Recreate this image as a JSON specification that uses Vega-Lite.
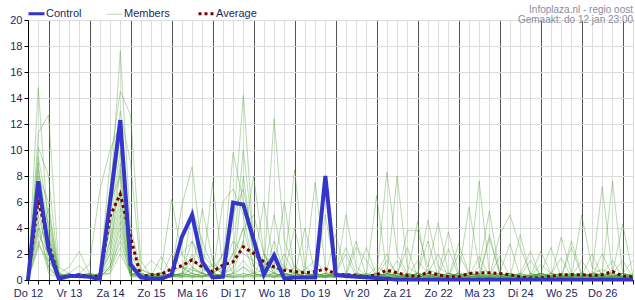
{
  "$schema": "https://vega.github.io/schema/vega-lite/v6.json",
  "width": 605,
  "height": 260,
  "autosize": "none",
  "padding": {"left": 28, "top": 20, "right": 2, "bottom": 20},
  "background": "#ffffff",
  "title": {
    "text": "Infoplaza.nl - regio oost",
    "subtitle": "Gemaakt: do 12 jan 23:00",
    "anchor": "end",
    "frame": "group",
    "font": "Liberation Sans",
    "subtitleFont": "Liberation Sans",
    "fontSize": 10,
    "subtitleFontSize": 10,
    "fontWeight": "normal",
    "color": "#8a8aa0",
    "subtitleColor": "#8a8aa0",
    "offset": -17,
    "subtitlePadding": 0
  },
  "datasets": {
    "hours": [{"k": 1, "h": [0,6,12,18,24,30,36,42,48,54,60,66,72,78,84,90,96,102,108,114,120,126,132,138,144,150,156,162,168,174,180,186,192,198,204,210,216,222,228,234,240,246,252,258,264,270,276,282,288,294,300,306,312,318,324,330,336,342,348,354]}],
    "members": [
      {"m": 1, "k": 1, "v": [0,14.8,3.5,0.3,0.2,0.4,0.2,0.5,6,17.6,4,0.8,0.5,0.3,1,2,3,1.5,0.8,2,4,14.2,3,1,2,1,0.5,0.8,1.5,0.6,0.3,0.5,0.4,0.3,1,0.6,0.5,0.3,0.2,0.8,0.5,0.3,0.2,0.3,1,0.5,0.3,0.4,0.3,0.2,0.3,0.5,0.4,0.3,0.2,0.5,0.8,0.5,0.3,0.2]},
      {"m": 2, "k": 1, "v": [0,11.3,12.7,1,0.5,0.2,0.3,0.2,9,14.5,12.7,1.5,0.3,0.2,0.5,1,0.8,0.5,1.2,0.8,3,2,1.5,0.8,12.4,3,1,0.5,0.3,0.2,0.5,0.3,0.2,0.4,0.3,8.3,2,0.5,0.3,0.2,0.4,0.3,0.2,0.5,0.3,0.2,0.1,0.3,0.2,0.4,0.3,0.2,0.1,0.3,0.5,0.3,0.2,0.4,0.3,0.2]},
      {"m": 3, "k": 1, "v": [0,10.2,8,0.5,1,2.2,0.5,0.3,7,13,9,0.8,0.4,0.6,0.3,0.5,1.5,1,0.5,1,9.8,6,2,1,0.5,1,8.5,1,0.5,0.3,0.2,0.5,0.3,0.2,0.5,0.4,8,1,0.5,0.3,0.2,0.5,0.3,0.6,0.4,0.3,0.5,0.3,0.4,0.3,0.2,0.5,0.3,0.2,0.3,0.5,0.4,0.3,0.2,0.3]},
      {"m": 4, "k": 1, "v": [0,9.5,5,0.2,0.3,0.5,1.2,6.9,10,12,2,0.5,0.2,0.3,0.5,5.7,8.7,2,1,0.5,1,3,8,2,1,0.5,0.3,0.8,7.5,1,0.5,0.3,0.2,0.1,0.3,0.5,0.3,0.2,0.5,4.6,1,0.5,0.3,0.2,0.4,0.3,0.5,0.3,0.2,0.3,0.4,0.3,0.2,0.5,0.3,0.5,7.2,0.5,0.2,0.4]},
      {"m": 5, "k": 1, "v": [0,9,2,0.5,0.2,0.3,0.2,0.3,5,11,3,0.6,1.5,0.8,6.2,2,1,0.5,7.5,1,2,10,3,1,0.5,0.3,1,0.5,0.3,0.5,0.2,5,1,0.3,0.5,0.3,0.2,3.8,3.8,1,4.4,0.5,0.3,0.2,0.3,0.5,0.3,0.2,0.3,0.2,0.5,0.3,0.2,0.3,0.4,0.3,0.5,7.6,0.5,0.3]},
      {"m": 6, "k": 1, "v": [0,8.5,4,0.3,0.5,1.1,0.3,0.2,4,10,1.5,0.5,0.3,1.8,0.5,0.3,5.5,3,1,0.5,0.8,8,2,1.5,0.8,6,0.5,0.3,0.2,0.5,0.3,0.2,0.5,0.4,6.5,0.5,0.3,0.5,0.3,0.2,0.5,3.7,0.5,0.3,7.6,0.5,0.3,0.2,0.5,0.3,0.2,0.3,0.5,0.3,0.2,0.5,0.3,0.2,0.3,0.2]},
      {"m": 7, "k": 1, "v": [0,8,6,0.4,0.3,0.5,0.3,0.5,3,9,0.8,0.3,0.2,0.5,0.8,1,0.5,5.5,1.5,0.5,0.3,1,0.5,0.8,0.3,0.5,0.3,4,0.5,0.3,0.2,0.3,2.5,1.5,0.3,0.5,0.2,0.3,0.5,0.3,0.2,0.3,0.5,5.6,1,5.3,0.5,0.3,0.2,0.3,0.5,0.2,0.3,0.5,0.3,0.2,0.3,0.5,4.3,0.3]},
      {"m": 8, "k": 1, "v": [0,7.5,1.5,0.2,0.3,0.3,0.5,0.3,2,8.5,0.5,0.4,0.3,0.2,0.3,0.5,0.8,0.5,0.3,6,7,5,1,6,1,0.5,0.3,0.2,0.5,0.3,3.5,0.5,0.3,0.2,0.4,0.3,0.5,0.3,0.2,0.4,0.3,0.2,2,0.5,0.3,0.2,3.5,5,2.5,0.5,0.3,0.2,3.3,0.5,0.3,0.2,0.5,0.3,0.2,0.5]},
      {"m": 9, "k": 1, "v": [0,7,3.5,0.5,0.2,0.3,0.2,0.3,6,8,1,0.3,0.5,0.3,2,1,0.5,0.3,0.5,1,5,7,3,0.5,5,1,0.5,0.3,0.2,0.3,0.5,0.3,0.2,0.3,0.5,0.3,0.2,0.5,0.3,0.2,0.3,0.5,0.3,0.2,0.5,0.3,0.2,0.3,0.5,0.3,2.2,0.5,0.3,0.2,5,1,0.5,0.3,0.2,0.3]},
      {"m": 10, "k": 1, "v": [0,6.5,2.5,0.3,0.5,0.2,0.3,0.2,4,7,0.5,0.5,0.3,0.5,0.3,0.5,3,0.8,0.5,0.3,1.5,4,5,2,0.5,2,0.5,0.3,0.5,5,0.5,0.3,0.2,0.3,0.2,0.5,0.3,0.2,0.5,0.3,0.5,0.3,0.2,0.3,0.5,0.3,0.2,0.5,0.3,0.2,0.5,0.3,0.2,2.5,0.3,0.5,0.3,0.2,0.5,1.5]},
      {"m": 11, "k": 1, "v": [0,6,1,0.2,0.3,0.5,0.3,0.2,3,6.5,1.2,0.3,0.2,0.3,0.5,0.3,2,0.5,0.3,2,0.5,1,0.3,0.5,0.3,0.5,4,0.5,0.3,0.2,0.3,0.5,0.3,0.2,0.3,0.2,0.5,0.3,0.2,0.3,0.5,0.3,0.2,0.5,0.3,3.5,0.5,0.3,0.2,0.5,0.3,0.2,0.3,0.2,0.5,0.3,0.2,0.3,0.5,0.2]},
      {"m": 12, "k": 1, "v": [0,5.5,4.5,0.5,0.3,0.2,0.5,0.3,2.5,6,0.3,0.2,0.3,0.2,0.3,0.5,0.3,0.2,0.5,0.3,0.5,3,0.5,0.3,0.2,0.5,0.3,0.2,0.3,0.5,0.2,0.3,0.5,0.3,0.2,0.5,0.3,0.2,1.5,0.5,0.3,0.2,2.8,0.5,0.3,0.2,0.3,0.5,0.3,0.2,1.2,0.5,0.3,0.2,0.3,2,0.3,0.2,0.3,0.2]},
      {"m": 13, "k": 1, "v": [0,5,2,0.3,0.5,0.3,0.2,0.5,2,5.5,0.5,0.3,0.5,0.3,0.2,0.5,0.3,0.5,0.3,0.2,0.3,0.5,0.3,0.2,0.3,0.2,0.5,0.3,0.2,0.3,0.5,2,0.2,0.5,0.3,1.5,0.5,2.5,0.2,0.5,0.3,0.2,0.5,0.3,0.2,0.3,1.8,0.3,0.2,0.3,0.5,0.3,0.2,3,0.5,0.3,0.2,0.3,0.5,0.3]},
      {"m": 14, "k": 1, "v": [0,4.5,0.5,0.2,0.3,0.5,0.2,0.3,1.5,5,0.3,0.5,0.3,0.5,0.3,0.2,1,0.5,0.3,0.5,2,4,1,0.5,0.3,0.5,0.2,0.3,0.5,0.3,0.2,0.5,3,0.2,0.5,0.3,0.2,0.5,4.5,0.3,0.2,0.5,0.3,0.2,0.3,0.5,0.3,0.2,0.3,1.5,0.3,0.2,0.3,0.5,0.3,0.2,0.5,0.3,0.2,0.3]},
      {"m": 15, "k": 1, "v": [0,4,3,0.3,0.2,0.3,0.5,0.2,1,4.5,0.5,0.3,0.2,0.3,0.5,0.3,0.5,0.3,0.2,0.3,0.5,1.5,0.5,0.3,0.5,0.3,0.2,0.5,0.3,0.2,0.3,0.5,0.3,0.5,0.3,0.2,0.3,0.2,0.3,0.5,2,0.2,0.3,0.5,0.3,0.2,0.3,0.2,3.5,0.3,0.2,0.3,0.5,0.3,0.2,0.3,0.5,1.5,0.2,0.3]},
      {"m": 16, "k": 1, "v": [0,4,1,0.2,0.3,0.2,0.3,0.5,1,4,0.5,0.2,0.3,0.2,0.3,0.5,0.3,0.2,0.5,0.3,0.2,0.5,0.3,2,0.5,0.3,0.2,0.3,0.5,0.3,0.5,2.5,0.5,0.3,0.2,0.3,0.5,0.3,0.2,0.3,0.5,0.3,0.2,0.3,1.8,0.3,0.5,0.3,0.2,0.3,0.5,2.5,0.2,0.3,0.5,0.3,0.2,0.3,0.5,0.3]},
      {"m": 17, "k": 1, "v": [0,3.5,2,0.3,0.2,0.3,0.2,0.3,0.5,3.5,0.3,0.5,0.3,0.2,0.5,0.3,0.2,0.3,0.5,0.3,0.2,0.3,0.5,0.3,3,0.5,0.3,0.2,0.3,0.5,0.3,0.2,0.5,0.3,0.2,0.5,0.3,0.2,0.5,3,0.2,0.3,0.5,0.3,0.2,0.3,0.2,0.3,0.5,2.2,0.2,0.3,0.2,0.5,0.3,0.2,0.3,0.5,1.5,0.2]},
      {"m": 18, "k": 1, "v": [0,3,0.8,0.2,0.3,0.5,0.3,0.2,1,3,0.5,0.3,0.5,0.3,0.2,0.3,0.5,0.3,0.2,0.5,0.3,0.2,0.3,0.5,0.2,0.3,0.5,0.3,0.2,0.3,0.5,0.3,0.2,0.3,0.5,0.3,1.5,0.3,0.5,0.3,0.2,0.3,0.5,0.3,0.2,0.3,0.5,2.8,0.2,0.3,0.5,0.3,0.2,0.3,0.5,0.3,2,0.3,0.5,0.3]},
      {"m": 19, "k": 1, "v": [0,2.7,1.5,0.3,0.2,0.3,0.5,0.3,0.8,2.5,0.3,0.2,0.3,0.5,0.3,0.2,0.3,0.5,0.3,0.2,0.5,0.3,0.2,0.3,0.5,0.3,0.2,0.5,0.3,0.2,0.3,0.5,0.3,2.5,0.3,0.5,0.3,0.2,0.3,0.5,0.3,2.4,0.3,0.5,0.3,0.2,0.3,0.5,0.3,0.2,0.3,0.5,1.7,0.2,0.3,0.5,0.3,0.2,0.3,0.2]},
      {"m": 20, "k": 1, "v": [0,2.5,5.5,0.5,0.3,0.2,0.3,0.5,0.5,2,0.5,0.3,0.2,0.3,0.5,0.3,0.2,0.3,0.5,0.3,0.2,0.3,0.5,0.3,0.2,0.3,0.5,0.3,0.2,0.3,0.5,0.3,0.2,0.3,0.5,2,0.2,0.3,0.5,0.3,0.2,0.3,0.5,0.3,0.2,3.2,0.5,0.3,0.2,0.3,0.5,0.3,0.2,0.3,1.5,0.3,0.2,0.3,0.5,0.3]}
    ],
    "main": [
      {"h":0,"c":0,"a":0},{"h":6,"c":7.6,"a":6.2},{"h":12,"c":2.4,"a":2.8},{"h":18,"c":0.1,"a":0.2},
      {"h":24,"c":0.3,"a":0.3},{"h":30,"c":0.3,"a":0.4},{"h":36,"c":0.25,"a":0.3},{"h":42,"c":0.05,"a":0.25},
      {"h":48,"c":6.0,"a":4.9},{"h":54,"c":12.3,"a":6.6},{"h":60,"c":1.2,"a":3.3},{"h":66,"c":0.2,"a":0.25},
      {"h":72,"c":0.1,"a":0.4},{"h":78,"c":0.1,"a":0.45},{"h":84,"c":0.4,"a":0.85},{"h":90,"c":3.3,"a":1.1},
      {"h":96,"c":5.0,"a":1.55},{"h":102,"c":1.4,"a":1.0},{"h":108,"c":0.2,"a":0.65},{"h":114,"c":0.25,"a":1.15},
      {"h":120,"c":5.95,"a":1.4},{"h":126,"c":5.8,"a":2.55},{"h":132,"c":3.1,"a":2.05},{"h":138,"c":0.4,"a":1.4},
      {"h":144,"c":1.9,"a":1.0},{"h":150,"c":0.1,"a":0.75},{"h":156,"c":0.2,"a":0.65},{"h":162,"c":0.2,"a":0.55},
      {"h":168,"c":0.2,"a":0.65},{"h":174,"c":8.0,"a":0.85},{"h":180,"c":0.4,"a":0.45},{"h":186,"c":0.3,"a":0.4},
      {"h":192,"c":0.25,"a":0.35},{"h":198,"c":0.2,"a":0.25},{"h":204,"c":0.15,"a":0.4},{"h":210,"c":0.1,"a":0.75},
      {"h":216,"c":0.03,"a":0.55},{"h":222,"c":0.03,"a":0.35},{"h":228,"c":0.03,"a":0.25},{"h":234,"c":0.03,"a":0.6},
      {"h":240,"c":0.03,"a":0.4},{"h":246,"c":0.03,"a":0.25},{"h":252,"c":0.03,"a":0.25},{"h":258,"c":0.03,"a":0.5},
      {"h":264,"c":0.03,"a":0.55},{"h":270,"c":0.03,"a":0.55},{"h":276,"c":0.03,"a":0.5},{"h":282,"c":0.03,"a":0.4},
      {"h":288,"c":0.03,"a":0.25},{"h":294,"c":0.03,"a":0.15},{"h":300,"c":0.03,"a":0.15},{"h":306,"c":0.03,"a":0.3},
      {"h":312,"c":0.03,"a":0.4},{"h":318,"c":0.03,"a":0.4},{"h":324,"c":0.03,"a":0.4},{"h":330,"c":0.03,"a":0.35},
      {"h":336,"c":0.03,"a":0.4},{"h":342,"c":0.03,"a":0.65},{"h":348,"c":0.03,"a":0.3},{"h":354,"c":0.03,"a":0.25}
    ]
  },
  "encoding": {
    "x": {
      "field": "h", "type": "quantitative",
      "scale": {"domain": [0, 354], "nice": false, "zero": false},
      "axis": {
        "title": null,
        "values": [0,6,12,18,24,30,36,42,48,54,60,66,72,78,84,90,96,102,108,114,120,126,132,138,144,150,156,162,168,174,180,186,192,198,204,210,216,222,228,234,240,246,252,258,264,270,276,282,288,294,300,306,312,318,324,330,336,342,348,354],
        "labelExpr": "datum.value % 24 == 0 ? ['Do 12','Vr 13','Za 14','Zo 15','Ma 16','Di 17','Wo 18','Do 19','Vr 20','Za 21','Zo 22','Ma 23','Di 24','Wo 25','Do 26'][datum.value / 24] : ''",
        "labelFlush": false,
        "labelOverlap": false,
        "labelPadding": 3,
        "gridColor": {"condition": {"test": "datum.value % 24 == 12", "value": "#555555"}, "value": "#dcdcdc"}
      }
    },
    "y": {
      "type": "quantitative",
      "scale": {"domain": [0, 20], "nice": false},
      "axis": {"title": null, "values": [0,2,4,6,8,10,12,14,16,18,20], "labelPadding": 2}
    }
  },
  "layer": [
    {
      "data": {"name": "members"},
      "transform": [
        {"lookup": "k", "from": {"data": {"name": "hours"}, "key": "k", "fields": ["h"]}},
        {"flatten": ["h", "v"]}
      ],
      "mark": {"type": "line", "clip": true, "strokeWidth": 1},
      "encoding": {
        "y": {"field": "v", "type": "quantitative"},
        "detail": {"field": "m", "type": "nominal"},
        "color": {"datum": "Members", "type": "nominal",
          "scale": {"domain": ["Control", "Members", "Average"], "range": ["#3535cc", "rgba(76,162,52,0.42)", "#760000"]},
          "legend": {
            "orient": "none", "legendX": 3, "legendY": -12, "direction": "horizontal",
            "title": null, "symbolType": "stroke", "symbolSize": 256,
            "labelFont": "Liberation Sans", "labelFontSize": 11, "labelColor": "#1f1f5f",
            "columnPadding": 22, "labelOffset": 4,
            "symbolStrokeWidth": {"expr": "datum.value === 'Members' ? 1 : 3"}
          }},
        "strokeDash": {"datum": "Members", "type": "nominal",
          "scale": {"domain": ["Control", "Members", "Average"], "range": [[1, 0], [1, 0], [3, 3]]}}
      }
    },
    {
      "data": {"name": "main"},
      "mark": {"type": "line", "strokeWidth": 3},
      "encoding": {
        "y": {"field": "a", "type": "quantitative"},
        "color": {"datum": "Average", "type": "nominal"},
        "strokeDash": {"datum": "Average", "type": "nominal"}
      }
    },
    {
      "data": {"name": "main"},
      "mark": {"type": "line", "strokeWidth": 4},
      "encoding": {
        "y": {"field": "c", "type": "quantitative"},
        "color": {"datum": "Control", "type": "nominal"},
        "strokeDash": {"datum": "Control", "type": "nominal"}
      }
    }
  ],
  "config": {
    "view": {"stroke": "#000000", "strokeWidth": 1},
    "axis": {
      "domainColor": "#000000", "tickColor": "#000000", "tickSize": 4,
      "labelColor": "#1f1f5f", "labelFont": "Liberation Sans", "labelFontSize": 11,
      "gridColor": "#dcdcdc", "grid": true
    }
  }
}
